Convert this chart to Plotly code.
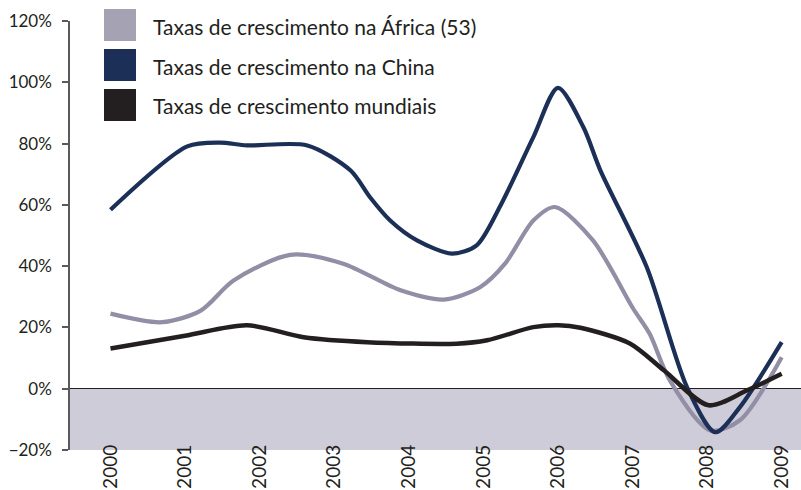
import plotly.graph_objects as go

# ---- data ----
series_names = [
    "Taxas de crescimento na África (53)",
    "Taxas de crescimento na China",
    "Taxas de crescimento mundiais",
]

africa_x = [2000.0, 2000.69, 2001.21, 2001.65, 2002.41, 2003.12, 2003.89, 2004.47,
            2004.96, 2005.29, 2005.67, 2005.96, 2006.47, 2007.01, 2007.23, 2007.50,
            2008.04, 2008.44, 2009.0]
africa_y = [24.5, 21.7, 25.5, 35.3, 43.7, 40.8, 32.1, 29.1,
            33.2, 40.8, 54.9, 59.3, 48.4, 26.1, 17.9, 2.7,
            -13.6, -10.3, 10.3]

china_x = [2000.0, 2001.03, 2001.47, 2001.83, 2002.64, 2003.22, 2003.48, 2003.75,
           2004.11, 2004.58, 2004.91, 2005.23, 2005.67, 2006.0, 2006.34, 2006.57,
           2007.19, 2007.73, 2008.11, 2008.44, 2009.0]
china_y = [58.4, 79.1, 80.3, 79.4, 79.4, 71.2, 62.5, 54.9,
           48.4, 44.1, 46.8, 59.8, 82.1, 98.2, 85.4, 71.2,
           39.7, 0.5, -14.2, -6.0, 15.2]

world_x = [2000.0, 2001.0, 2001.83, 2002.59, 2003.44, 2004.64, 2005.05, 2005.67,
           2006.01, 2006.30, 2006.97, 2007.42, 2008.02, 2008.53, 2009.0]
world_y = [13.1, 17.3, 20.7, 16.8, 15.2, 14.7, 15.8, 20.1,
           20.7, 19.9, 14.7, 6.0, -5.4, -0.6, 4.9]

year_ticks = [2000, 2001, 2002, 2003, 2004, 2005, 2006, 2007, 2008, 2009]
year_labels = [str(y) for y in year_ticks]
pct_ticks = [-20, 0, 20, 40, 60, 80, 100, 120]
pct_labels = ["\u221220%", "0%", "20%", "40%", "60%", "80%", "100%", "120%"]

line_colors = ["#918ea5", "#1b2f57", "#231f20"]
legend_colors = ["#a4a2b3", "#1b2f57", "#231f20"]
text_color = "#231f20"
font_family = "Lato, 'Open Sans', sans-serif"

fig = go.Figure()
for name, xs, ys, col, w in [
    (series_names[0], africa_x, africa_y, line_colors[0], 4.2),
    (series_names[1], china_x, china_y, line_colors[1], 4.2),
    (series_names[2], world_x, world_y, line_colors[2], 4.5),
]:
    fig.add_trace(go.Scatter(
        x=xs, y=ys, name=name, mode="lines",
        line=dict(color=col, width=w, shape="spline", smoothing=0.8),
        showlegend=False, hoverinfo="skip",
    ))

# negative area shading
fig.add_shape(type="rect", xref="paper", yref="y", x0=0, x1=1, y0=-20, y1=0,
              fillcolor="#cdccd8", line=dict(width=0), layer="below")

# custom legend (large squares)
L, W, T, H = 70, 731, 21, 429
def px_x(p):
    return (p - L) / W
def px_y(p):
    return (T + H - p) / H

for i, (name, col) in enumerate(zip(series_names, legend_colors)):
    top = 9 + 40 * i
    fig.add_shape(type="rect", xref="paper", yref="paper",
                  x0=px_x(104), x1=px_x(136), y0=px_y(top + 32), y1=px_y(top),
                  fillcolor=col, line=dict(width=0), layer="above")
    fig.add_annotation(xref="paper", yref="paper", x=px_x(151), y=px_y(top + 17),
                       text=name, showarrow=False, xanchor="left", yanchor="middle",
                       font=dict(family=font_family, size=21, color=text_color))

fig.update_layout(
    width=801, height=490,
    margin=dict(l=L, r=0, t=T, b=490 - T - H, autoexpand=False),
    paper_bgcolor="white", plot_bgcolor="white",
    font=dict(family=font_family, color=text_color),
)
fig.update_xaxes(
    range=[1999.457, 2009.259], tickvals=year_ticks, ticktext=year_labels,
    tickangle=-90, showgrid=False, zeroline=False, showline=False, ticks="",
    tickfont=dict(size=19, color=text_color), ticklabelstandoff=-10,
    automargin=False,
)
fig.update_yaxes(
    range=[-20, 120], tickvals=pct_ticks, ticktext=pct_labels,
    showgrid=False, zeroline=True, zerolinecolor="#231f20", zerolinewidth=1,
    showline=True, linecolor="#5a5a5a", linewidth=1.5,
    ticks="outside", ticklen=6, tickcolor="#5a5a5a", tickwidth=1.5,
    tickfont=dict(size=17, color=text_color), ticklabelstandoff=7,
    automargin=False,
)

fig.write_html("out.html", config={"displayModeBar": False},
               post_script="document.body.style.margin='0';")
